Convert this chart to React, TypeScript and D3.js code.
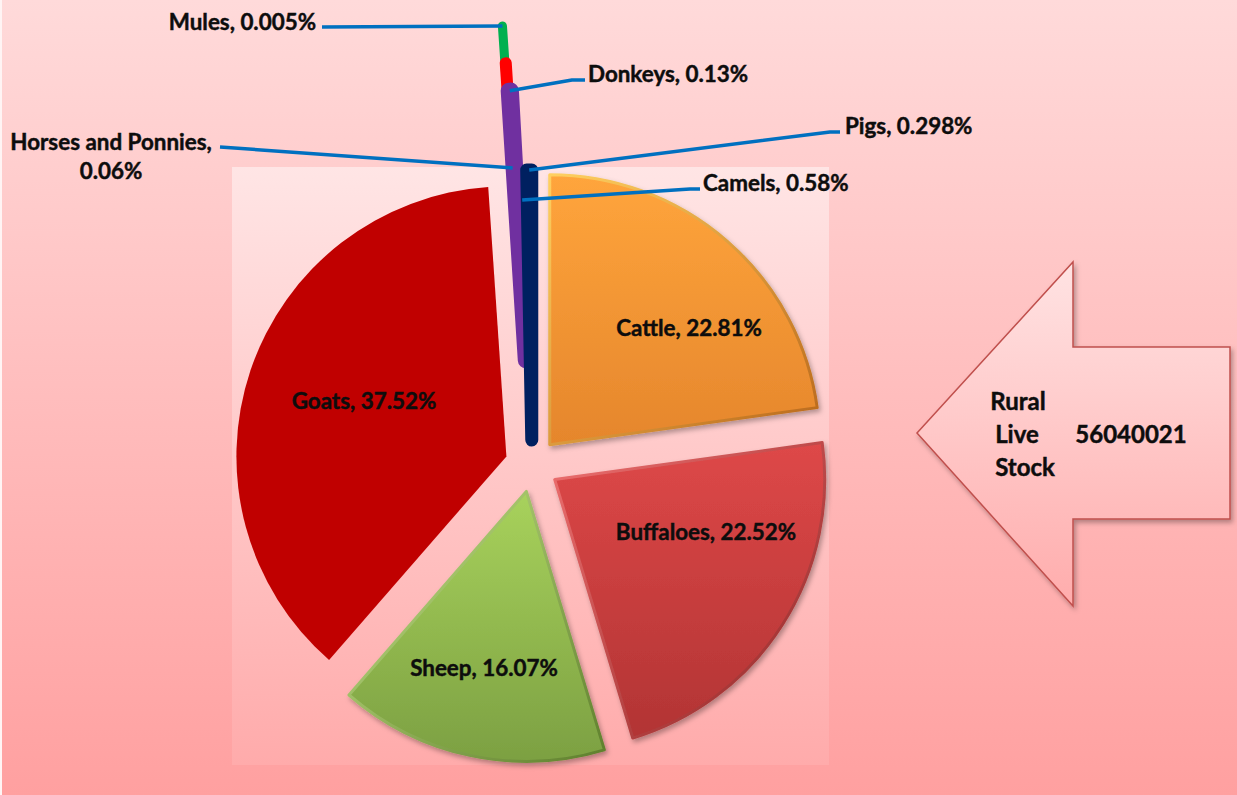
import React from "react";
import * as d3 from "d3";

// ---------- data ----------
const categories = [
  "Cattle",
  "Buffaloes",
  "Sheep",
  "Goats",
  "Mules",
  "Horses and Ponnies",
  "Donkeys",
  "Camels",
  "Pigs",
];
const shares = [22.81, 22.52, 16.07, 37.52, 0.005, 0.06, 0.13, 0.58, 0.298];
const totalTitle = ["Rural", "Live", "Stock"];
const totalValue = 56040021;

// ---------- styles / layout (kept apart from data) ----------
const W = 1237;
const H = 795;
const CX = 532;
const CY = 465;
const R = 270;

const sliceStyle: Record<string, { fill: string; top?: string; bottom?: string; edgeTop?: string; edgeBottom?: string; bar?: number; explode: number; z: number }> = {
  Cattle: { fill: "#F7931E", top: "#FFA53C", bottom: "#E5862C", edgeTop: "#FFD060", edgeBottom: "#B8661A", explode: 27, z: 1 },
  Buffaloes: { fill: "#D04040", top: "#DE4848", bottom: "#B23434", edgeTop: "#EE7070", edgeBottom: "#8E2424", explode: 27, z: 1 },
  Sheep: { fill: "#90BE4A", top: "#A8D25C", bottom: "#7CA042", edgeTop: "#C8E68A", edgeBottom: "#5E7F2C", explode: 27, z: 1 },
  Goats: { fill: "#C00000", explode: 27, z: 1 },
  Mules: { fill: "#00B050", bar: 9, explode: 170, z: 3 },
  "Horses and Ponnies": { fill: "#FF0000", bar: 11, explode: 133, z: 4 },
  Donkeys: { fill: "#7030A0", bar: 16, explode: 105, z: 5 },
  Camels: { fill: "#002060", bar: 4, explode: 25, z: 2 },
  Pigs: { fill: "#002060", bar: 13, explode: 25, z: 6 },
};

type LabelCfg = {
  lines: [number, number][];
  anchor: "start" | "middle" | "end";
  leader?: [number, number][];
  reach?: number;
};

const labelLayout: Record<string, LabelCfg> = {
  Cattle: { lines: [[689, 328]], anchor: "middle" },
  Buffaloes: { lines: [[706, 532]], anchor: "middle" },
  Sheep: { lines: [[484, 668]], anchor: "middle" },
  Goats: { lines: [[364, 401]], anchor: "middle" },
  Mules: { lines: [[316, 22]], anchor: "end", leader: [[322, 27]], reach: 1 },
  "Horses and Ponnies": {
    lines: [[111, 142], [111, 171]],
    anchor: "middle",
    leader: [[220, 147]],
    reach: 0.61,
  },
  Donkeys: { lines: [[588, 74]], anchor: "start", leader: [[585, 80], [572, 80]], reach: 1 },
  Camels: { lines: [[703, 183]], anchor: "start", leader: [[700, 189], [690, 189]], reach: 0.89 },
  Pigs: { lines: [[845, 126]], anchor: "start", leader: [[840, 132], [830, 132]], reach: 1 },
};

const FONT = "Lato, 'Open Sans', sans-serif";
const INK = "#0D0D0D";

function fmt(v: number) {
  return String(v) + "%";
}

export default function App() {
  const pie = d3
    .pie<number>()
    .value((d) => d)
    .sort(null)
    .startAngle(0)
    .endAngle(2 * Math.PI);
  const arcs = pie(shares);
  const arcGen = d3.arc<d3.PieArcDatum<number>>().innerRadius(0).outerRadius(R);

  const geo = arcs.map((a, i) => {
    const name = categories[i];
    const st = sliceStyle[name];
    const mid = (a.startAngle + a.endAngle) / 2;
    const ox = CX + st.explode * Math.sin(mid);
    const oy = CY - st.explode * Math.cos(mid);
    return { a, i, name, st, mid, ox, oy, path: arcGen(a) as string };
  });
  const painted = [...geo].sort((p, q) => p.st.z - q.st.z || p.i - q.i);

  const arrow = { tipX: 917, tipY: 433, neckX: 1073, headTop: 262, headBottom: 606, shaftTop: 347, shaftBottom: 519, right: 1230 };
  const arrowPath =
    d3.line()([
      [arrow.tipX, arrow.tipY],
      [arrow.neckX, arrow.headTop],
      [arrow.neckX, arrow.shaftTop],
      [arrow.right, arrow.shaftTop],
      [arrow.right, arrow.shaftBottom],
      [arrow.neckX, arrow.shaftBottom],
      [arrow.neckX, arrow.headBottom],
    ]) + "Z";

  const lineGen = d3.line();
  const textProps = {
    fontWeight: "bold" as const,
    fill: INK,
    stroke: INK,
    strokeWidth: 0.45,
  };

  return (
    <svg
      width={W}
      height={H}
      viewBox={`0 0 ${W} ${H}`}
      style={{ position: "absolute", left: 0, top: 0, display: "block" }}
      fontFamily={FONT}
    >
      <defs>
        <linearGradient id="bg" x1="0" y1="0" x2="0" y2="1">
          <stop offset="0" stopColor="#FFDADA" />
          <stop offset="1" stopColor="#FFA0A0" />
        </linearGradient>
        <linearGradient id="plotbg" x1="0" y1="0" x2="0" y2="1">
          <stop offset="0" stopColor="#FFE5E5" />
          <stop offset="1" stopColor="#FFABAB" />
        </linearGradient>
        <linearGradient id="arrowbg" x1="0" y1="0" x2="0" y2="1">
          <stop offset="0" stopColor="#FFE3E3" />
          <stop offset="1" stopColor="#FFACAC" />
        </linearGradient>
        <filter id="shadow" x="-20%" y="-20%" width="140%" height="140%">
          <feDropShadow dx="2" dy="3" stdDeviation="2.5" floodColor="#000" floodOpacity="0.3" />
        </filter>
        {geo
          .filter((g) => g.st.top)
          .map((g) => (
            <React.Fragment key={g.name}>
              <linearGradient id={`fill-${g.i}`} x1="0" y1="0" x2="0" y2="1">
                <stop offset="0" stopColor={g.st.top} />
                <stop offset="1" stopColor={g.st.bottom} />
              </linearGradient>
              <linearGradient id={`edge-${g.i}`} x1="0" y1="0" x2="1" y2="1">
                <stop offset="0" stopColor={g.st.edgeTop} />
                <stop offset="1" stopColor={g.st.edgeBottom} />
              </linearGradient>
            </React.Fragment>
          ))}
      </defs>

      <rect x={0} y={0} width={W} height={H} fill="url(#bg)" />
      <rect x={0} y={0} width={2} height={H} fill="#FFF4F4" />
      <rect x={232} y={167} width={597} height={598} fill="url(#plotbg)" />

      {painted.map((g) => {
        if (g.st.top) {
          return (
            <g key={g.name} transform={`translate(${g.ox},${g.oy})`} filter="url(#shadow)">
              <path d={g.path} fill={`url(#fill-${g.i})`} stroke={`url(#edge-${g.i})`} strokeWidth={3} strokeLinejoin="round" />
            </g>
          );
        }
        if (g.st.bar) {
          return (
            <g key={g.name} transform={`translate(${g.ox},${g.oy})`}>
              <path d={g.path} fill={g.st.fill} stroke={g.st.fill} strokeWidth={g.st.bar} strokeLinejoin="round" />
            </g>
          );
        }
        return (
          <g key={g.name} transform={`translate(${g.ox},${g.oy})`}>
            <path d={g.path} fill={g.st.fill} />
          </g>
        );
      })}

      {geo.map((g) => {
        const cfg = labelLayout[g.name];
        if (!cfg.leader) return null;
        const f = cfg.reach ?? 1;
        const end: [number, number] = [g.ox + R * f * Math.sin(g.mid), g.oy - R * f * Math.cos(g.mid)];
        return (
          <path
            key={`l-${g.name}`}
            d={lineGen([...cfg.leader, end]) as string}
            fill="none"
            stroke="#0070C0"
            strokeWidth={3.5}
            strokeLinejoin="round"
          />
        );
      })}

      {geo.map((g) => {
        const cfg = labelLayout[g.name];
        const v = shares[g.i];
        const parts = cfg.lines.length > 1 ? [`${g.name},`, fmt(v)] : [`${g.name}, ${fmt(v)}`];
        return parts.map((t, k) => (
          <text
            key={`t-${g.name}-${k}`}
            x={cfg.lines[k][0]}
            y={cfg.lines[k][1]}
            dy="0.36em"
            textAnchor={cfg.anchor}
            fontSize={22.4}
            {...textProps}
          >
            {t}
          </text>
        ));
      })}

      <path d={arrowPath} fill="url(#arrowbg)" stroke="#C0504D" strokeWidth={1.5} filter="url(#shadow)" />
      {totalTitle.map((t, k) => (
        <text
          key={`tt-${k}`}
          x={[1018, 1017, 1025][k]}
          y={[401, 434, 467][k]}
          dy="0.36em"
          textAnchor="middle"
          fontSize={24}
          {...textProps}
        >
          {t}
        </text>
      ))}
      <text x={1131} y={434} dy="0.36em" textAnchor="middle" fontSize={24} {...textProps}>
        {totalValue}
      </text>
    </svg>
  );
}
